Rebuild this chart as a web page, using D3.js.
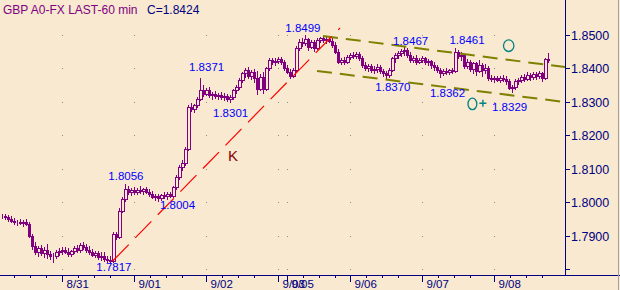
<!DOCTYPE html>
<html><head><meta charset="utf-8">
<script src="https://cdn.jsdelivr.net/npm/d3@7"></script>
<style>html,body{margin:0;padding:0;background:#f8e9d0;}svg{display:block;}</style>
</head><body>
<svg id="c" width="620" height="290"></svg>
<script>
// ---- data (60-min bars, GBP A0-FX) ----
const opens = [1.7958,1.7960,1.7955,1.7950,1.7945,1.7940,1.7942,1.7938,1.7940,1.7936,
1.7900,1.7868,1.7850,1.7862,1.7848,1.7858,1.7845,1.7838,1.7840,1.7850,
1.7855,1.7858,1.7852,1.7845,1.7855,1.7862,1.7858,1.7872,1.7865,1.7858,
1.7850,1.7842,1.7848,1.7835,1.7840,1.7830,1.7828,1.7825,1.7905,1.7895,
1.7975,1.8010,1.8040,1.8030,1.8036,1.8032,1.8038,1.8034,1.8040,1.8032,
1.8025,1.8015,1.8018,1.8012,1.8022,1.8018,1.8025,1.8020,1.8045,1.8075,
1.8105,1.8118,1.8160,1.8285,1.8280,1.8290,1.8310,1.8335,1.8325,1.8335,
1.8320,1.8325,1.8318,1.8322,1.8316,1.8318,1.8310,1.8314,1.8335,1.8345,
1.8365,1.8385,1.8395,1.8378,1.8390,1.8370,1.8340,1.8375,1.8338,1.8400,
1.8425,1.8418,1.8422,1.8428,1.8418,1.8400,1.8390,1.8378,1.8395,1.8462,
1.8480,1.8475,1.8488,1.8465,1.8480,1.8462,1.8485,1.8490,1.8484,1.8488,
1.8482,1.8470,1.8450,1.8420,1.8426,1.8420,1.8435,1.8440,1.8436,1.8442,
1.8430,1.8410,1.8400,1.8406,1.8395,1.8398,1.8405,1.8392,1.8385,1.8380,
1.8396,1.8430,1.8440,1.8445,1.8452,1.8456,1.8440,1.8425,1.8432,1.8420,
1.8426,1.8430,1.8418,1.8422,1.8410,1.8404,1.8395,1.8385,1.8392,1.8388,
1.8394,1.8392,1.8448,1.8436,1.8440,1.8408,1.8420,1.8398,1.8415,1.8392,
1.8410,1.8395,1.8402,1.8372,1.8368,1.8370,1.8366,1.8372,1.8368,1.8362,
1.8342,1.8345,1.8362,1.8366,1.8374,1.8368,1.8380,1.8374,1.8384,1.8376,
1.8386,1.8372,1.8428];
const highs = [1.7965,1.7966,1.7962,1.7958,1.7952,1.7948,1.7950,1.7946,1.7950,1.7940,
1.7905,1.7880,1.7870,1.7872,1.7866,1.7875,1.7855,1.7848,1.7858,1.7862,
1.7865,1.7866,1.7862,1.7858,1.7868,1.7872,1.7878,1.7880,1.7875,1.7868,
1.7860,1.7855,1.7855,1.7850,1.7852,1.7840,1.7838,1.7910,1.7912,1.7982,
1.8015,1.8056,1.8048,1.8042,1.8045,1.8042,1.8048,1.8044,1.8046,1.8040,
1.8034,1.8025,1.8024,1.8026,1.8030,1.8030,1.8032,1.8050,1.8080,1.8110,
1.8125,1.8165,1.8290,1.8298,1.8295,1.8315,1.8371,1.8350,1.8342,1.8345,
1.8330,1.8332,1.8328,1.8330,1.8326,1.8324,1.8320,1.8338,1.8350,1.8370,
1.8390,1.8400,1.8405,1.8395,1.8398,1.8392,1.8382,1.8388,1.8405,1.8430,
1.8432,1.8430,1.8435,1.8434,1.8424,1.8410,1.8398,1.8400,1.8466,1.8488,
1.8492,1.8499,1.8492,1.8485,1.8486,1.8490,1.8495,1.8496,1.8494,1.8495,
1.8490,1.8478,1.8458,1.8432,1.8434,1.8440,1.8446,1.8448,1.8450,1.8448,
1.8436,1.8418,1.8412,1.8412,1.8406,1.8412,1.8410,1.8398,1.8392,1.8400,
1.8435,1.8445,1.8452,1.8458,1.8467,1.8462,1.8448,1.8438,1.8440,1.8432,
1.8436,1.8434,1.8428,1.8426,1.8418,1.8410,1.8400,1.8398,1.8400,1.8398,
1.8400,1.8461,1.8456,1.8448,1.8444,1.8428,1.8425,1.8420,1.8420,1.8425,
1.8415,1.8412,1.8406,1.8380,1.8376,1.8378,1.8376,1.8380,1.8378,1.8368,
1.8350,1.8368,1.8372,1.8380,1.8382,1.8388,1.8386,1.8390,1.8390,1.8392,
1.8390,1.8432,1.8445];
const lows = [1.7952,1.7950,1.7945,1.7940,1.7935,1.7932,1.7935,1.7930,1.7932,1.7895,
1.7860,1.7845,1.7838,1.7842,1.7835,1.7832,1.7830,1.7821,1.7832,1.7842,
1.7845,1.7848,1.7840,1.7838,1.7848,1.7850,1.7852,1.7860,1.7852,1.7845,
1.7838,1.7835,1.7830,1.7828,1.7825,1.7822,1.7817,1.7822,1.7890,1.7892,
1.7970,1.8005,1.8025,1.8022,1.8025,1.8024,1.8028,1.8026,1.8028,1.8020,
1.8012,1.8008,1.8004,1.8008,1.8012,1.8010,1.8015,1.8016,1.8040,1.8070,
1.8095,1.8110,1.8155,1.8272,1.8270,1.8285,1.8305,1.8318,1.8320,1.8315,
1.8310,1.8312,1.8308,1.8310,1.8306,1.8304,1.8301,1.8310,1.8328,1.8340,
1.8360,1.8375,1.8370,1.8368,1.8360,1.8325,1.8335,1.8328,1.8335,1.8395,
1.8412,1.8410,1.8415,1.8412,1.8395,1.8385,1.8372,1.8374,1.8392,1.8455,
1.8466,1.8470,1.8455,1.8460,1.8452,1.8458,1.8478,1.8480,1.8476,1.8478,
1.8465,1.8445,1.8415,1.8412,1.8414,1.8416,1.8428,1.8430,1.8430,1.8425,
1.8405,1.8395,1.8392,1.8388,1.8385,1.8390,1.8385,1.8378,1.8370,1.8375,
1.8392,1.8420,1.8432,1.8436,1.8440,1.8435,1.8418,1.8418,1.8412,1.8415,
1.8418,1.8412,1.8410,1.8402,1.8396,1.8388,1.8375,1.8380,1.8384,1.8382,
1.8385,1.8390,1.8430,1.8425,1.8402,1.8400,1.8392,1.8385,1.8380,1.8388,
1.8378,1.8385,1.8366,1.8362,1.8360,1.8362,1.8360,1.8362,1.8355,1.8338,
1.8329,1.8340,1.8355,1.8360,1.8362,1.8364,1.8366,1.8368,1.8368,1.8372,
1.8362,1.8368,1.8418];
const closes = [1.7960,1.7955,1.7950,1.7945,1.7940,1.7942,1.7938,1.7940,1.7936,1.7900,
1.7868,1.7850,1.7862,1.7848,1.7858,1.7845,1.7838,1.7840,1.7850,1.7855,
1.7858,1.7852,1.7845,1.7855,1.7862,1.7858,1.7872,1.7865,1.7858,1.7850,
1.7842,1.7848,1.7835,1.7840,1.7830,1.7828,1.7825,1.7905,1.7895,1.7975,
1.8010,1.8040,1.8030,1.8036,1.8032,1.8038,1.8034,1.8040,1.8032,1.8025,
1.8015,1.8018,1.8012,1.8022,1.8018,1.8025,1.8020,1.8045,1.8075,1.8105,
1.8118,1.8160,1.8285,1.8280,1.8290,1.8310,1.8335,1.8325,1.8335,1.8320,
1.8325,1.8318,1.8322,1.8316,1.8318,1.8310,1.8314,1.8335,1.8345,1.8365,
1.8385,1.8395,1.8378,1.8390,1.8370,1.8340,1.8375,1.8338,1.8400,1.8425,
1.8418,1.8422,1.8428,1.8418,1.8400,1.8390,1.8378,1.8395,1.8462,1.8480,
1.8475,1.8488,1.8465,1.8480,1.8462,1.8485,1.8490,1.8484,1.8488,1.8482,
1.8470,1.8450,1.8420,1.8426,1.8420,1.8435,1.8440,1.8436,1.8442,1.8430,
1.8410,1.8400,1.8406,1.8395,1.8398,1.8405,1.8392,1.8385,1.8380,1.8396,
1.8430,1.8440,1.8445,1.8452,1.8456,1.8440,1.8425,1.8432,1.8420,1.8426,
1.8430,1.8418,1.8422,1.8410,1.8404,1.8395,1.8385,1.8392,1.8388,1.8394,
1.8392,1.8448,1.8436,1.8440,1.8408,1.8420,1.8398,1.8415,1.8392,1.8410,
1.8395,1.8402,1.8372,1.8368,1.8370,1.8366,1.8372,1.8368,1.8362,1.8342,
1.8345,1.8362,1.8366,1.8374,1.8368,1.8380,1.8374,1.8384,1.8376,1.8386,
1.8372,1.8428,1.8424];

// x-axis: bar index of first bar of each day + labels
const dayIdx    = [20, 44, 68, 92, 95, 116, 140, 164];
const dayLabels = ["8/31","9/01","9/02","9/03","9/05","9/06","9/07","9/08"];
const minorIdx  = [4,9.3,14.7,25.3,30.7,36,49.3,54.7,60,73.3,78.7,84,100.3,105.7,111,121.3,126.7,132,145.3,150.7,156,169.3,174.7,180];
// y-axis ticks
const yTicks      = [1.78,1.79,1.80,1.81,1.82,1.83,1.84,1.85];
const yTickLabels = ["","1.7900","1.8000","1.8100","1.8200","1.8300","1.8400","1.8500"];

// annotations (price labels of swing highs/lows)
const annoText  = ["1.7817","1.8056","1.8004","1.8371","1.8301","1.8499","1.8467","1.8370","1.8461","1.8362","1.8329"];
const annoIdx   = [37.3, 41.3, 58.5, 68.2, 76.2, 100.3, 136.2, 130.3, 155, 148.5, 169.2];
const annoPrice = [1.77945,1.8068,1.7980,1.83924,1.82534,1.8509,1.8470,1.83326,1.8473,1.83147,1.82728];

// trend lines [idx0, price0, idx1, price1]
const kLine      = [36.9, 1.78243, 112.67, 1.85209];
const chanUpper  = [107, 1.8497, 187.67, 1.8404];
const chanLower  = [105, 1.83924, 187.67, 1.82997];
const kLabel     = {idx: 75.3, price: 1.81242};
const circles    = [{idx:168.9, price:1.8468, rx:5.2, ry:5.8},{idx:156.8, price:1.8294, rx:4.4, ry:5.8}];
const plusMark   = {idx:160.3, price:1.8296};

// ---- drawing ----
const W = 620, H = 290;
const bg = "#f8e9d0";
const svg = d3.select("#c");
svg.append("rect").attr("width",W).attr("height",H).attr("fill",bg);

const x = d3.scaleLinear().domain([0,182]).range([2,548]);
const y = d3.scaleLinear().domain([1.79,1.85]).range([235.7,35]);
const yr = y.copy().interpolate(d3.interpolateRound);
const axisX = 565, axisY = 275;

// grid dots
dayIdx.forEach(d => {
  yTicks.forEach(t => {
    svg.append("rect").attr("x", Math.round(x(d))).attr("y", yr(t)).attr("width",1).attr("height",1).attr("fill","#8c8c8c");
  });
});

// candles
const purple = "#800080";
const bars = d3.range(closes.length);
const g = svg.append("g");
bars.forEach(i => {
  const cx = Math.round(x(i));
  const yh = yr(highs[i]), yl = yr(lows[i]);
  g.append("line").attr("x1",cx+0.5).attr("x2",cx+0.5).attr("y1",yh).attr("y2",yl+1)
    .attr("stroke",purple).attr("stroke-width",1);
  const yo = yr(opens[i]), yc = yr(closes[i]);
  const top = Math.min(yo,yc), bot = Math.max(yo,yc);
  if (closes[i] >= opens[i]) {
    g.append("rect").attr("x",cx-0.5).attr("y",top+0.5).attr("width",3).attr("height",Math.max(0,bot-top))
      .attr("fill",bg).attr("stroke",purple).attr("stroke-width",1);
  } else {
    g.append("rect").attr("x",cx-1).attr("y",top).attr("width",3).attr("height",Math.max(1,bot-top+1))
      .attr("fill",purple);
  }
});

// channel lines
function seg(p, color, w, dash) {
  svg.append("line").attr("x1",x(p[0])).attr("y1",y(p[1])).attr("x2",x(p[2])).attr("y2",y(p[3]))
    .attr("stroke",color).attr("stroke-width",w).attr("stroke-dasharray",dash);
}
seg(chanUpper, "#808000", 2, "15,8");
seg(chanLower, "#808000", 2, "15,8");
seg(kLine, "#ff0000", 1.2, "23,9.3");

svg.append("text").attr("x",x(kLabel.idx)).attr("y",y(kLabel.price)).text("K")
  .attr("font-family","Liberation Sans, Arial, sans-serif").attr("font-size",15).attr("fill","#8b0000");

circles.forEach(c => {
  svg.append("ellipse").attr("cx",x(c.idx)).attr("cy",y(c.price)).attr("rx",c.rx).attr("ry",c.ry)
    .attr("fill","none").attr("stroke","#008080").attr("stroke-width",1.3);
});
{
  const px = x(plusMark.idx), py = y(plusMark.price);
  svg.append("path").attr("d",`M${px-3.5},${py}H${px+3.5}M${px},${py-3.5}V${py+3.5}`)
    .attr("stroke","#008080").attr("stroke-width",1.4).attr("fill","none");
}

// price annotation labels
annoText.forEach((t,i) => {
  svg.append("text").attr("x",x(annoIdx[i])).attr("y",y(annoPrice[i])).attr("text-anchor","middle")
    .attr("font-family","Liberation Sans, Arial, sans-serif").attr("font-size",11.5).attr("fill","#0000ff").text(t);
});

// right axis
const navy = "#000080";
const yAxis = d3.axisRight(yr).tickValues(yTicks).tickSize(5).tickPadding(1)
  .tickFormat((d,i) => yTickLabels[i]);
const ya = svg.append("g").attr("transform",`translate(${axisX},0)`).call(yAxis);
ya.select(".domain").remove();
ya.selectAll(".tick line").attr("stroke",navy);
ya.selectAll(".tick text").attr("fill",navy).attr("font-family","Liberation Sans, Arial, sans-serif").attr("font-size",12.5);
svg.append("line").attr("x1",axisX+0.5).attr("x2",axisX+0.5).attr("y1",0).attr("y2",axisY+1).attr("stroke",navy);

// bottom axis
svg.append("line").attr("x1",0).attr("x2",W).attr("y1",axisY+0.5).attr("y2",axisY+0.5).attr("stroke",navy);
const xr = x.copy().interpolate(d3.interpolateRound);
const xMinor = d3.axisBottom(xr).tickValues(minorIdx).tickSize(3).tickFormat("");
const xm = svg.append("g").attr("transform",`translate(0,${axisY})`).call(xMinor);
xm.select(".domain").remove();
xm.selectAll(".tick line").attr("stroke",navy);
const xAxis = d3.axisBottom(xr).tickValues(dayIdx).tickSize(7).tickPadding(0).tickFormat((d,i)=>dayLabels[i]);
const xa = svg.append("g").attr("transform",`translate(0,${axisY})`).call(xAxis);
xa.select(".domain").remove();
xa.selectAll(".tick line").attr("stroke",navy);
xa.selectAll(".tick text").attr("fill",navy).attr("text-anchor","start").attr("dx",4).attr("dy",0).attr("y",13)
  .attr("font-family","Liberation Sans, Arial, sans-serif").attr("font-size",11.5);

// title
svg.append("text").attr("x",3).attr("y",14).attr("fill","#800080")
  .attr("font-family","Liberation Sans, Arial, sans-serif").attr("font-size",12).text("GBP A0-FX LAST-60 min");
svg.append("text").attr("x",147).attr("y",14).attr("fill",navy)
  .attr("font-family","Liberation Sans, Arial, sans-serif").attr("font-size",12).text("C=1.8424");
// window edge
svg.append("line").attr("x1",618.5).attr("x2",618.5).attr("y1",0).attr("y2",H).attr("stroke","#a0a0a0");
</script>
</body></html>
